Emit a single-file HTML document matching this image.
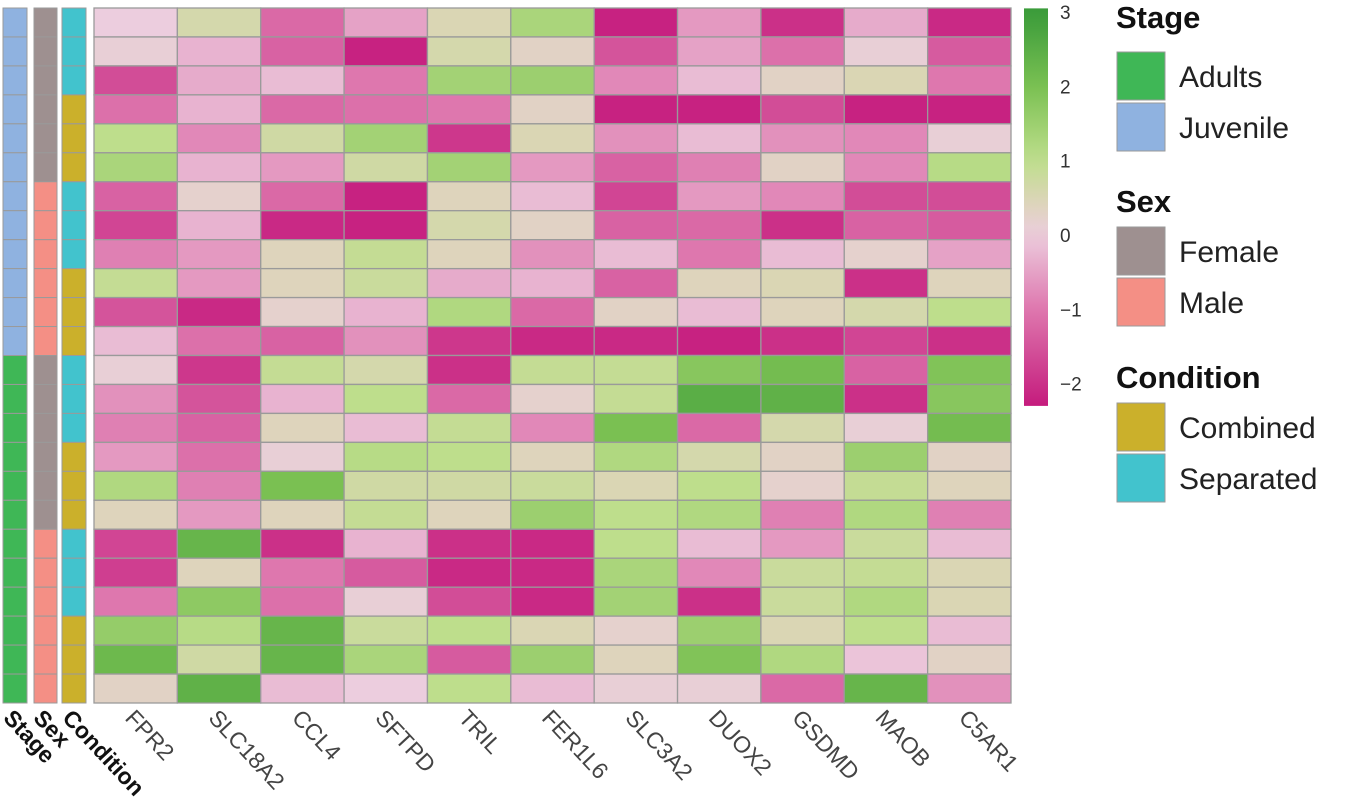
<!DOCTYPE html>
<html><head><meta charset="utf-8"><style>
body{margin:0;background:#fff;width:1350px;height:809px;overflow:hidden;font-family:"Liberation Sans",sans-serif}
svg{display:block}
</style></head><body>
<svg id="chart" width="1350" height="809" viewBox="0 0 1350 809" xmlns="http://www.w3.org/2000/svg">
<defs><linearGradient id="cbar" x1="0" y1="1" x2="0" y2="0"></linearGradient></defs>
<g id="cells"></g>
<g id="annos"></g>
<g id="labels"></g>
<g id="colorbar"></g>
<g id="legend"></g>
</svg>
<script>
const genes = ["FPR2","SLC18A2","CCL4","SFTPD","TRIL","FER1L6","SLC3A2","DUOX2","GSDMD","MAOB","C5AR1"];
const stage = ["Juvenile","Juvenile","Juvenile","Juvenile","Juvenile","Juvenile","Juvenile","Juvenile","Juvenile","Juvenile","Juvenile","Juvenile","Adults","Adults","Adults","Adults","Adults","Adults","Adults","Adults","Adults","Adults","Adults","Adults"];
const sex = ["Female","Female","Female","Female","Female","Female","Male","Male","Male","Male","Male","Male","Female","Female","Female","Female","Female","Female","Male","Male","Male","Male","Male","Male"];
const condition = ["Separated","Separated","Separated","Combined","Combined","Combined","Separated","Separated","Separated","Combined","Combined","Combined","Separated","Separated","Separated","Combined","Combined","Combined","Separated","Separated","Separated","Combined","Combined","Combined"];
const values = [
[0,0.6,-1.2,-0.5,0.5,1.3,-2.2,-0.6,-2,-0.4,-2.1],
[0.1,-0.3,-1.3,-2.2,0.6,0.3,-1.5,-0.5,-1.1,0.1,-1.4],
[-1.6,-0.4,-0.2,-1.0,1.4,1.5,-0.8,-0.2,0.3,0.5,-1.0],
[-1.1,-0.3,-1.2,-1.1,-1.0,0.3,-2.2,-2.2,-1.6,-2.2,-2.2],
[1.0,-0.8,0.7,1.4,-1.9,0.5,-0.7,-0.2,-0.7,-0.8,0.1],
[1.3,-0.3,-0.6,0.7,1.4,-0.6,-1.3,-0.9,0.3,-0.8,1.1],
[-1.3,0.2,-1.2,-2.2,0.4,-0.2,-1.7,-0.6,-0.8,-1.6,-1.6],
[-1.7,-0.3,-2.1,-2.2,0.6,0.3,-1.3,-1.2,-2,-1.3,-1.4],
[-0.9,-0.6,0.4,0.9,0.4,-0.7,-0.2,-1.0,-0.2,0.2,-0.5],
[0.9,-0.6,0.4,0.8,-0.4,-0.3,-1.3,0.4,0.5,-2,0.4],
[-1.5,-2.1,0.2,-0.3,1.2,-1.2,0.3,-0.2,0.4,0.6,1.0],
[-0.2,-1.1,-1.3,-0.7,-1.9,-2.1,-2.1,-2.2,-2,-1.7,-2],
[0.1,-1.9,0.9,0.6,-2,0.9,0.9,1.8,2.1,-1.3,1.9],
[-0.7,-1.5,-0.3,1.0,-1.2,0.2,0.9,2.5,2.4,-2,1.8],
[-0.9,-1.3,0.4,-0.2,0.9,-0.8,2.0,-1.2,0.6,0.1,2.1],
[-0.6,-1.1,0.1,1.1,1.0,0.4,1.2,0.6,0.3,1.5,0.3],
[1.2,-0.9,2.0,0.7,0.7,0.8,0.5,1.0,0.2,0.9,0.4],
[0.4,-0.6,0.4,0.9,0.4,1.5,1.0,1.2,-0.9,1.2,-0.9],
[-1.7,2.3,-2,-0.3,-2,-2.1,1.0,-0.2,-0.6,0.8,-0.2],
[-1.8,0.4,-1.0,-1.4,-2.1,-2.1,1.3,-0.8,0.8,0.9,0.5],
[-1.0,1.7,-1.1,0.1,-1.6,-2.1,1.4,-2.0,0.8,1.2,0.5],
[1.6,1.1,2.3,0.8,1.0,0.5,0.2,1.5,0.5,1.0,-0.2],
[2.2,0.7,2.3,1.3,-1.4,1.5,0.4,1.9,1.2,-0.1,0.3],
[0.3,2.4,-0.2,0.0,1.0,-0.2,0.1,0.1,-1.2,2.3,-0.7]
];
const cbTicks = [3,2,1,0,-1,-2];
const annoColors = {Adults:"#3fb756",Juvenile:"#8fb2e0",Female:"#9e9090",Male:"#f48f85",Combined:"#cbb02b",Separated:"#42c3cd"};

const NS="http://www.w3.org/2000/svg";
function mk(tag,attrs,parent){const e=document.createElementNS(NS,tag);for(const k in attrs)e.setAttribute(k,attrs[k]);parent.appendChild(e);return e;}
const stops=[[-2.3,[197,27,125]],[-1,[222,119,174]],[0,[236,205,222]],[0.5,[218,214,180]],[1,[190,222,140]],[2,[122,192,82]],[3,[58,155,58]]];
function color(v){
  if(v<=stops[0][0])return rgb(stops[0][1]);
  for(let i=1;i<stops.length;i++){if(v<=stops[i][0]){const a=stops[i-1],b=stops[i];const t=(v-a[0])/(b[0]-a[0]);return rgb(a[1].map((c,j)=>c+(b[1][j]-c)*t));}}
  return rgb(stops[stops.length-1][1]);
}
function rgb(c){return "rgb("+c.map(Math.round).join(",")+")";}
const X0=94,X1=1011,Y0=8,Y1=703;
const cw=(X1-X0)/genes.length, rh=(Y1-Y0)/values.length;
const xs=i=>X0+i*cw, ys=r=>Y0+r*rh;
const gc=document.getElementById('cells');
values.forEach((row,r)=>row.forEach((v,c)=>{
  const el=mk('rect',{x:xs(c),y:ys(r),width:cw,height:rh,fill:color(v),stroke:"#9a9a9a","stroke-width":1.3},gc);
  
  
}));
const ga=document.getElementById('annos');
const annoCols=[[stage,3,24],[sex,34,23],[condition,62,24]];
annoCols.forEach(([arr,x,w],k)=>{
  arr.forEach((v,r)=>{
    const el=mk('rect',{x:x,y:ys(r),width:w,height:rh,fill:annoColors[v],stroke:"#9a9a9a","stroke-width":1},ga);
    
    
  });
});
const gl=document.getElementById('labels');
genes.forEach((g,i)=>{
  const cx=xs(i)+cw/2;
  const t=mk('text',{x:0,y:16,transform:`translate(${cx} 708) rotate(47)`,"font-size":23,fill:"#444"},gl);
  t.textContent=g;
  
  
});
[["Stage",14],["Sex",44],["Condition",73]].forEach(([s,x])=>{
  const t=mk('text',{x:0,y:16,transform:`translate(${x} 708) rotate(47)`,"font-size":23,"font-weight":"bold",fill:"#111"},gl);
  t.textContent=s;
  
  
});
// colorbar
const grad=document.getElementById('cbar');
const vmin=-2.3,vmax=3.05;
for(let i=0;i<=20;i++){const v=vmin+(vmax-vmin)*i/20;mk('stop',{offset:(i*5)+'%','stop-color':color(v)},grad);}
const gcb=document.getElementById('colorbar');
const cbY=v=>235-74.3*v;
const cbr=mk('rect',{x:1024,y:cbY(vmax),width:24,height:cbY(vmin)-cbY(vmax),fill:"url(#cbar)"},gcb);


cbTicks.forEach(v=>{
  const t=mk('text',{x:1060,y:cbY(v)+7,"font-size":19,fill:"#333"},gcb);
  t.textContent=v<0?"\u2212"+(-v):String(v);
  
  
});
// legend
const gleg=document.getElementById('legend');
const groups=[["Stage",52,28,["Adults","Juvenile"]],["Sex",227,212,["Female","Male"]],["Condition",403,388,["Combined","Separated"]]];
groups.forEach(([title,ky,ty,items])=>{
  const t=mk('text',{x:1116,y:ty,"font-size":31,"font-weight":"bold",fill:"#111"},gleg);
  t.textContent=title;
  
  
  items.forEach((it,i)=>{
    const y=ky+i*51;
    const r=mk('rect',{x:1117,y:y,width:48,height:48,fill:annoColors[it],stroke:"#9a9a9a","stroke-width":1},gleg);
    
    
    const lt=mk('text',{x:1179,y:y+35,"font-size":30,fill:"#222"},gleg);
    lt.textContent=it;
    
    
  });
});
</script>
</body></html>
